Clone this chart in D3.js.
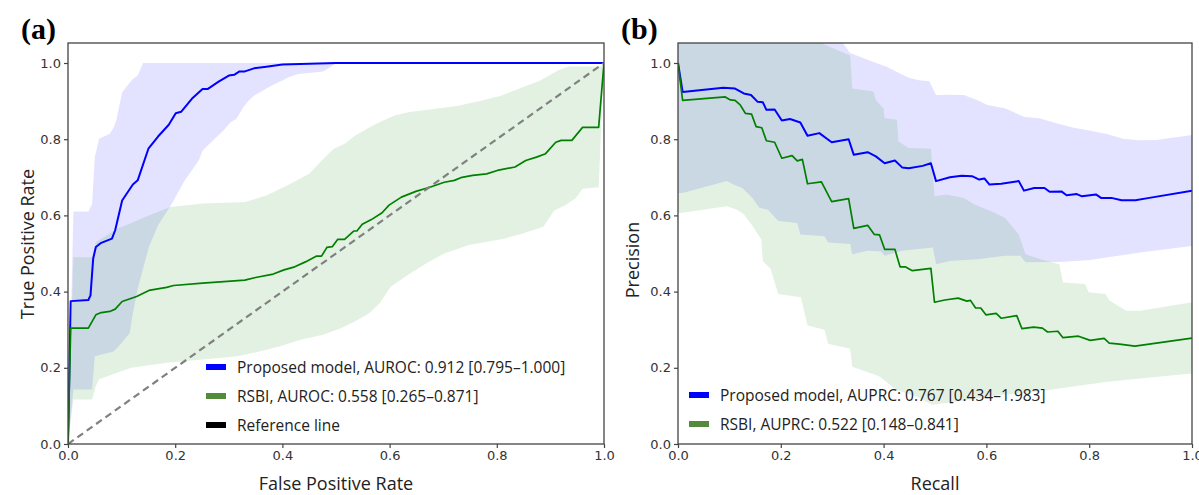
<!DOCTYPE html>
<html><head><meta charset="utf-8">
<script src="https://cdn.jsdelivr.net/npm/d3@7"></script>
<style>body{margin:0;background:#fff}svg{display:block}</style>
</head><body>
<svg id="chart" width="1199" height="495"></svg>
<script>
// ---------- DATA ----------
const tickValues = [0, 0.2, 0.4, 0.6, 0.8, 1.0];
const tickLabels = ["0.0", "0.2", "0.4", "0.6", "0.8", "1.0"];
const panelLabels = ["(a)", "(b)"];
const xAxisTitles = ["False Positive Rate", "Recall"];
const yAxisTitles = ["True Positive Rate", "Precision"];
const rocLegend = ["Proposed model, AUROC: 0.912 [0.795\u20131.000]", "RSBI, AUROC: 0.558 [0.265\u20130.871]", "Reference line"];
const prLegend = ["Proposed model, AUPRC: 0.767 [0.434\u20131.983]", "RSBI, AUPRC: 0.522 [0.148\u20130.841]"];

// ROC – proposed model (mean curve, upper, lower)
const rocProposed = [[0,0],[0.005,0.375],[0.038,0.378],[0.042,0.39],[0.047,0.487],[0.052,0.517],[0.062,0.528],[0.082,0.539],[0.088,0.561],[0.101,0.639],[0.121,0.681],[0.130,0.692],[0.150,0.775],[0.168,0.807],[0.188,0.838],[0.201,0.868],[0.211,0.872],[0.231,0.906],[0.251,0.932],[0.261,0.932],[0.281,0.951],[0.300,0.967],[0.310,0.969],[0.320,0.978],[0.330,0.978],[0.347,0.986],[0.370,0.990],[0.400,0.996],[0.450,0.998],[0.500,1.0],[1.0,1.0]];
const rocProposedUpper = [[0,0],[0.0101,0.61],[0.038,0.61],[0.045,0.63],[0.050,0.753],[0.058,0.801],[0.078,0.814],[0.085,0.83],[0.090,0.849],[0.101,0.923],[0.111,0.941],[0.121,0.958],[0.130,0.967],[0.140,1.0],[1,1]];
const rocProposedLower = [[0,0],[0.0101,0.143],[0.045,0.143],[0.050,0.23],[0.085,0.243],[0.095,0.257],[0.105,0.274],[0.115,0.291],[0.121,0.343],[0.131,0.413],[0.141,0.465],[0.151,0.517],[0.168,0.574],[0.184,0.609],[0.194,0.631],[0.204,0.657],[0.218,0.692],[0.231,0.718],[0.244,0.744],[0.251,0.770],[0.261,0.784],[0.271,0.797],[0.290,0.823],[0.304,0.845],[0.314,0.853],[0.327,0.884],[0.337,0.901],[0.347,0.914],[0.38,0.941],[0.40,0.954],[0.41,0.962],[0.43,0.971],[0.476,0.978],[0.489,0.989],[0.50,1.0],[1,1]];

// ROC – RSBI
const rocRsbi = [[0,0],[0.005,0.304],[0.038,0.304],[0.052,0.339],[0.062,0.345],[0.078,0.348],[0.088,0.354],[0.101,0.374],[0.128,0.387],[0.151,0.403],[0.184,0.411],[0.197,0.416],[0.251,0.422],[0.330,0.430],[0.350,0.437],[0.383,0.446],[0.403,0.457],[0.423,0.465],[0.443,0.478],[0.463,0.493],[0.473,0.493],[0.483,0.516],[0.493,0.518],[0.503,0.537],[0.516,0.537],[0.533,0.559],[0.539,0.559],[0.549,0.577],[0.566,0.589],[0.586,0.607],[0.599,0.627],[0.622,0.648],[0.649,0.663],[0.675,0.674],[0.702,0.687],[0.721,0.692],[0.735,0.700],[0.755,0.705],[0.781,0.709],[0.801,0.718],[0.834,0.727],[0.854,0.744],[0.874,0.753],[0.891,0.762],[0.910,0.792],[0.920,0.797],[0.940,0.797],[0.960,0.831],[0.990,0.831],[1.0,1.0]];
const rocRsbiUpper = [[0,0],[0.0101,0.49],[0.045,0.49],[0.052,0.530],[0.092,0.565],[0.118,0.58],[0.151,0.600],[0.191,0.622],[0.251,0.631],[0.330,0.635],[0.370,0.652],[0.410,0.679],[0.450,0.709],[0.476,0.748],[0.496,0.775],[0.516,0.788],[0.536,0.810],[0.562,0.831],[0.582,0.845],[0.609,0.862],[0.635,0.871],[0.682,0.879],[0.728,0.888],[0.768,0.900],[0.808,0.914],[0.847,0.936],[0.881,0.954],[0.914,0.980],[0.934,0.991],[0.993,0.991],[1,1]];
const rocRsbiLower = [[0,0],[0.0101,0.117],[0.045,0.117],[0.052,0.152],[0.058,0.170],[0.118,0.2],[0.184,0.213],[0.251,0.222],[0.317,0.230],[0.357,0.243],[0.397,0.257],[0.436,0.274],[0.476,0.287],[0.509,0.304],[0.536,0.322],[0.562,0.343],[0.582,0.370],[0.602,0.413],[0.629,0.439],[0.668,0.474],[0.702,0.5],[0.748,0.522],[0.814,0.539],[0.847,0.552],[0.887,0.570],[0.907,0.613],[0.927,0.626],[0.947,0.645],[0.960,0.670],[0.990,0.674],[1,1]];

const rocReference = [[0,0],[1,1]];

// PR – proposed model
const prProposed = [[0,1.0],[0.009,0.924],[0.088,0.935],[0.111,0.933],[0.128,0.920],[0.142,0.916],[0.155,0.898],[0.165,0.897],[0.172,0.877],[0.188,0.878],[0.202,0.849],[0.218,0.853],[0.238,0.844],[0.252,0.809],[0.275,0.816],[0.299,0.792],[0.332,0.800],[0.342,0.759],[0.369,0.766],[0.385,0.755],[0.402,0.737],[0.422,0.744],[0.436,0.726],[0.449,0.724],[0.476,0.730],[0.492,0.737],[0.502,0.690],[0.529,0.700],[0.552,0.704],[0.572,0.703],[0.586,0.694],[0.596,0.697],[0.606,0.681],[0.629,0.683],[0.663,0.690],[0.673,0.665],[0.693,0.672],[0.713,0.672],[0.723,0.662],[0.746,0.663],[0.756,0.653],[0.776,0.656],[0.786,0.650],[0.813,0.655],[0.823,0.646],[0.843,0.646],[0.863,0.640],[0.890,0.640],[0.917,0.646],[1.0,0.665]];
const prProposedUpper = [[0,1.2],[0.31,1.2],[0.322,1.05],[0.335,1.026],[0.379,1.003],[0.406,0.990],[0.428,0.975],[0.449,0.961],[0.469,0.955],[0.489,0.952],[0.502,0.916],[0.529,0.917],[0.556,0.916],[0.582,0.903],[0.602,0.890],[0.636,0.881],[0.673,0.859],[0.703,0.855],[0.736,0.842],[0.770,0.830],[0.803,0.822],[0.836,0.813],[0.866,0.801],[0.896,0.797],[0.930,0.798],[1.0,0.811]];
const prProposedLower = [[0,0.659],[0.009,0.659],[0.095,0.690],[0.111,0.679],[0.125,0.672],[0.145,0.646],[0.158,0.620],[0.175,0.615],[0.195,0.585],[0.232,0.58],[0.238,0.550],[0.285,0.545],[0.292,0.529],[0.335,0.525],[0.339,0.498],[0.369,0.507],[0.395,0.505],[0.402,0.494],[0.436,0.507],[0.496,0.516],[0.502,0.472],[0.529,0.480],[0.582,0.485],[0.636,0.494],[0.666,0.494],[0.676,0.477],[0.743,0.478],[0.803,0.483],[0.836,0.490],[0.903,0.503],[1.0,0.52]];

// PR – RSBI
const prRsbi = [[0,1.0],[0.009,0.902],[0.092,0.911],[0.102,0.903],[0.111,0.902],[0.121,0.890],[0.131,0.868],[0.143,0.866],[0.152,0.833],[0.163,0.830],[0.172,0.796],[0.188,0.792],[0.202,0.750],[0.222,0.757],[0.232,0.743],[0.242,0.747],[0.252,0.683],[0.279,0.688],[0.299,0.636],[0.332,0.644],[0.342,0.566],[0.369,0.574],[0.382,0.550],[0.392,0.549],[0.402,0.511],[0.422,0.511],[0.432,0.465],[0.442,0.465],[0.456,0.455],[0.492,0.461],[0.499,0.372],[0.519,0.378],[0.545,0.383],[0.562,0.375],[0.569,0.377],[0.579,0.357],[0.589,0.357],[0.599,0.339],[0.619,0.343],[0.629,0.330],[0.659,0.337],[0.669,0.303],[0.692,0.307],[0.709,0.304],[0.719,0.294],[0.739,0.296],[0.749,0.279],[0.779,0.283],[0.802,0.272],[0.829,0.277],[0.839,0.265],[0.859,0.262],[0.889,0.257],[1.0,0.278]];
const prRsbiUpper = [[0,1.2],[0.27,1.2],[0.282,1.05],[0.335,1.02],[0.339,0.933],[0.38,0.925],[0.385,0.903],[0.40,0.88],[0.402,0.855],[0.426,0.851],[0.429,0.794],[0.449,0.777],[0.492,0.775],[0.499,0.650],[0.522,0.655],[0.556,0.646],[0.576,0.629],[0.609,0.611],[0.636,0.594],[0.663,0.550],[0.676,0.498],[0.705,0.485],[0.742,0.472],[0.749,0.424],[0.792,0.42],[0.799,0.398],[0.832,0.394],[0.839,0.377],[0.872,0.350],[0.899,0.35],[1.0,0.372]];
const prRsbiLower = [[0,0.607],[0.009,0.607],[0.095,0.624],[0.115,0.615],[0.128,0.603],[0.145,0.572],[0.162,0.537],[0.165,0.48],[0.18,0.46],[0.195,0.394],[0.239,0.385],[0.252,0.311],[0.285,0.30],[0.292,0.263],[0.335,0.25],[0.339,0.203],[0.365,0.190],[0.392,0.177],[0.425,0.142],[0.465,0.124],[0.495,0.103],[0.539,0.111],[0.632,0.129],[0.699,0.137],[0.765,0.150],[0.832,0.163],[0.899,0.172],[1.0,0.185]];

// ---------- DRAWING ----------
const svg = d3.select("#chart");
const BLUE = "#0000ff", GREEN = "#007f00";
const BLUE_FILL = "rgba(0,0,255,0.11)", GREEN_FILL = "rgba(0,128,0,0.11)";
const LEG_BLUE = "#0000ff", LEG_GREEN = "#548a3c", LEG_BLACK = "#000";
const AXIS_COLOR = "#444";
const TICK_FONT = "DejaVu Sans", TEXT_FONT = "'Open Sans', 'Noto Sans', sans-serif";

function drawPanel(cfg) {
  const x = d3.scaleLinear().domain([0, 1]).range([cfg.left, cfg.right]);
  const y = d3.scaleLinear().domain([0, 1.0525]).range([cfg.bottom, cfg.top]);
  const g = svg.append("g");
  const clipId = "clip" + cfg.id;
  svg.append("clipPath").attr("id", clipId).append("rect")
    .attr("x", cfg.left).attr("y", cfg.top)
    .attr("width", cfg.right - cfg.left).attr("height", cfg.bottom - cfg.top);
  const plot = g.append("g").attr("clip-path", `url(#${clipId})`);
  const line = d3.line().x(d => x(d[0])).y(d => y(d[1]));

  cfg.bands.forEach(b => {
    plot.append("path")
      .attr("d", line(b.upper.concat(b.lower.slice().reverse())) + "Z")
      .attr("fill", b.fill).attr("stroke", "none");
  });
  cfg.lines.forEach(l => {
    plot.append("path").attr("d", line(l.data))
      .attr("fill", "none").attr("stroke", l.color)
      .attr("stroke-width", l.width)
      .attr("stroke-dasharray", l.dash || null)
      .attr("stroke-linejoin", "round");
  });

  // axes
  const xAxis = d3.axisBottom(x).tickValues(tickValues).tickFormat((d, i) => tickLabels[i]).tickSize(4).tickPadding(3);
  const yAxis = d3.axisLeft(y).tickValues(tickValues).tickFormat((d, i) => tickLabels[i]).tickSize(4).tickPadding(3);
  const gx = g.append("g").attr("transform", `translate(0,${cfg.bottom})`).call(xAxis);
  const gy = g.append("g").attr("transform", `translate(${cfg.left},0)`).call(yAxis);
  [gx, gy].forEach(a => {
    a.select(".domain").remove();
    a.selectAll(".tick line").attr("stroke", AXIS_COLOR).attr("stroke-width", 1.2);
    a.selectAll(".tick text").attr("fill", "#333").style("font-family", TICK_FONT).style("font-size", "13px");
  });
  g.append("rect").attr("x", cfg.left).attr("y", cfg.top)
    .attr("width", cfg.right - cfg.left).attr("height", cfg.bottom - cfg.top)
    .attr("fill", "none").attr("stroke", AXIS_COLOR).attr("stroke-width", 1.3);

  // titles
  g.append("text").text(cfg.xTitle)
    .attr("x", (cfg.left + cfg.right) / 2).attr("y", 490)
    .attr("text-anchor", "middle").attr("fill", "#222")
    .style("font-family", TEXT_FONT).style("font-size", "18px");
  g.append("text").text(cfg.yTitle)
    .attr("transform", `translate(${cfg.yTitleX},${cfg.yTitleY}) rotate(-90)`)
    .attr("text-anchor", "middle").attr("fill", "#222")
    .style("font-family", TEXT_FONT).style("font-size", "18px");
  g.append("text").text(cfg.label)
    .attr("x", cfg.labelX).attr("y", 39)
    .attr("fill", "#000").style("font-family", "'Liberation Serif', 'Times New Roman', serif")
    .style("font-size", "30px").style("font-weight", "bold");

  // legend
  cfg.legend.forEach((item, i) => {
    const cy = cfg.legY + i * 29;
    g.append("rect").attr("x", cfg.legX).attr("y", cy - 3)
      .attr("width", 20).attr("height", 6).attr("fill", item.color);
    g.append("text").text(item.text)
      .attr("x", cfg.legX + 31).attr("y", cy + 5.5)
      .attr("fill", "#222").style("font-family", TEXT_FONT).style("font-size", "15.5px");
  });
}

drawPanel({
  id: "a", left: 68, right: 604, top: 43, bottom: 444,
  label: panelLabels[0], labelX: 21,
  xTitle: xAxisTitles[0], yTitle: yAxisTitles[0], yTitleX: 34, yTitleY: 244,
  bands: [
    { upper: rocProposedUpper, lower: rocProposedLower, fill: BLUE_FILL },
    { upper: rocRsbiUpper, lower: rocRsbiLower, fill: GREEN_FILL }
  ],
  lines: [
    { data: rocProposed, color: BLUE, width: 2 },
    { data: rocRsbi, color: GREEN, width: 1.7 },
    { data: rocReference, color: "#808080", width: 2.2, dash: "7,4.5" }
  ],
  legX: 206, legY: 367,
  legend: [
    { text: rocLegend[0], color: LEG_BLUE },
    { text: rocLegend[1], color: LEG_GREEN },
    { text: rocLegend[2], color: LEG_BLACK }
  ]
});

drawPanel({
  id: "b", left: 678, right: 1192, top: 43, bottom: 444,
  label: panelLabels[1], labelX: 621,
  xTitle: xAxisTitles[1], yTitle: yAxisTitles[1], yTitleX: 639, yTitleY: 260,
  bands: [
    { upper: prProposedUpper, lower: prProposedLower, fill: BLUE_FILL },
    { upper: prRsbiUpper, lower: prRsbiLower, fill: GREEN_FILL }
  ],
  lines: [
    { data: prProposed, color: BLUE, width: 2 },
    { data: prRsbi, color: GREEN, width: 1.7 }
  ],
  legX: 689, legY: 395,
  legend: [
    { text: prLegend[0], color: LEG_BLUE },
    { text: prLegend[1], color: LEG_GREEN }
  ]
});
</script>
</body></html>
